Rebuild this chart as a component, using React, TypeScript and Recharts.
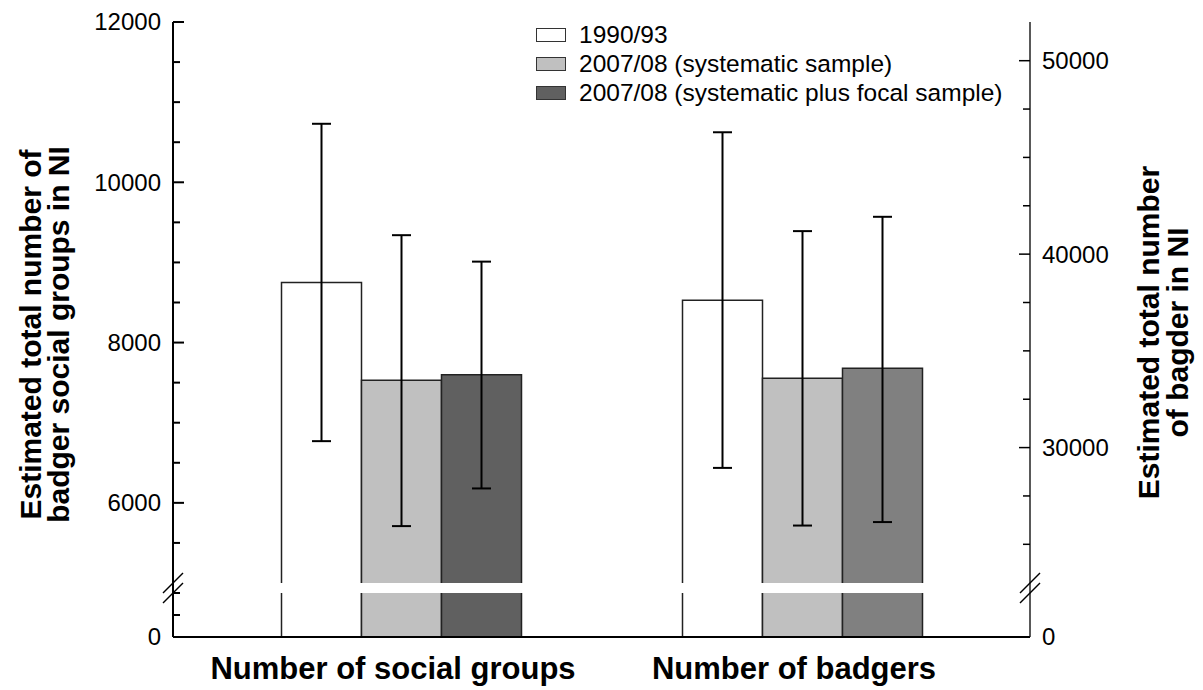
import React from 'react';
import { ComposedChart, Bar, Line, XAxis, YAxis, ErrorBar, Cell, ReferenceArea, Legend } from 'recharts';

// ---------- data ----------
const categories = ['Number of social groups', 'Number of badgers'];
const seriesNames = ['1990/93', '2007/08 (systematic sample)', '2007/08 (systematic plus focal sample)'];

// first category read on the left axis, second on the right axis
const est1990 = [8750, 37620];
const lo1990 = [6770, 28950];
const hi1990 = [10730, 46300];
const estSys = [7530, 33590];
const loSys = [5710, 25970];
const hiSys = [9340, 41190];
const estFocal = [7600, 34100];
const loFocal = [6180, 26150];
const hiFocal = [9010, 41930];

const leftMajorTicks = [0, 6000, 8000, 10000, 12000];
const leftMinorTicks = [500, 1000, 5500, 6500, 7000, 7500, 8500, 9000, 9500, 10500, 11000, 11500];
const rightMajorTicks = [0, 30000, 40000, 50000];
const rightMinorTicks = [25000, 27500, 32500, 35000, 37500, 42500, 45000, 47500];

// broken axis segments: [lowerMax, upperMin, upperMax]
const leftSegments = [1000, 5000, 12000];
const rightSegments = [1000, 23000, 52000];

// ---------- styles ----------
const FONT = '"Liberation Sans", Arial, Helvetica, sans-serif';
const FILL_1990 = '#ffffff';
const FILL_SYS = '#c0c0c0';
const FILL_FOCAL = ['#606060', '#808080'];
const LEGEND_FILLS = [FILL_1990, FILL_SYS, FILL_FOCAL[0]];
const BAR_STROKE = '#222';

// display units for the broken scale
const D_MAX = 615;
const D_LOW_TOP = 44;
const D_UP_BOTTOM = 54;
const D_BREAK = (D_LOW_TOP + D_UP_BOTTOM) / 2;

const makeMap = ([lowMax, upMin, upMax]: number[]) => (v: number) =>
  v <= lowMax ? (v / lowMax) * D_LOW_TOP : D_UP_BOTTOM + ((v - upMin) / (upMax - upMin)) * (D_MAX - D_UP_BOTTOM);

const leftMap = makeMap(leftSegments);
const rightMap = makeMap(rightSegments);
const maps = [leftMap, rightMap];

const seriesSets = [
  [est1990, lo1990, hi1990],
  [estSys, loSys, hiSys],
  [estFocal, loFocal, hiFocal],
];

const data = categories.map((c, i) => {
  const m = maps[i];
  const row: any = { category: c };
  seriesSets.forEach(([e, l, h], k) => {
    row[`s${k}`] = m(e[i]);
    row[`e${k}`] = [m(e[i]) - m(l[i]), m(h[i]) - m(e[i])];
  });
  return row;
});

type TickDef = { pos: number; label?: string; major: boolean; isBreak?: boolean };
const buildTicks = (m: (v: number) => number, majors: number[], minors: number[]): TickDef[] =>
  [
    ...majors.map((v) => ({ pos: m(v), label: String(v), major: true })),
    ...minors.map((v) => ({ pos: m(v), major: false })),
    { pos: D_BREAK, major: false, isBreak: true },
  ].sort((a, b) => a.pos - b.pos);

const leftTicks = buildTicks(leftMap, leftMajorTicks, leftMinorTicks);
const rightTicks = buildTicks(rightMap, rightMajorTicks, rightMinorTicks);

const makeTick = (defs: TickDef[], side: 'left' | 'right') => (props: any) => {
  const { x, y, payload } = props;
  const d = defs.find((t) => Math.abs(t.pos - payload.value) < 1e-6);
  if (!d) return <g />;
  const dir = side === 'left' ? 1 : -1;
  if (d.isBreak) {
    return (
      <g stroke="#000" strokeWidth={1.4}>
        <line x1={x - 10} y1={y - 5 + 10} x2={x + 10} y2={y - 5 - 10} />
        <line x1={x - 10} y1={y + 5 + 10} x2={x + 10} y2={y + 5 - 10} />
      </g>
    );
  }
  const len = d.major ? 11 : 7;
  return (
    <g>
      <line x1={x} y1={y} x2={x + dir * len} y2={y} stroke="#000" strokeWidth={side === 'left' ? 2 : 1.5} />
      {d.label !== undefined && (
        <text
          x={x - dir * 12}
          y={y}
          dy="0.35em"
          textAnchor={side === 'left' ? 'end' : 'start'}
          fontSize={24}
          fontFamily={FONT}
          fill="#000"
        >
          {d.label}
        </text>
      )}
    </g>
  );
};

const makeTitle = (lines: string[], offsets: number[], shift: number) => (props: any) => {
  const vb = props.viewBox || { x: 0, y: 0, width: 0, height: 0 };
  const cy = vb.y + vb.height / 2 + shift;
  return (
    <g>
      {lines.map((t, i) => {
        const cx = vb.x + offsets[i];
        return (
          <text
            key={t}
            x={cx}
            y={cy}
            transform={`rotate(-90 ${cx} ${cy})`}
            textAnchor="middle"
            dominantBaseline="central"
            fontSize={30}
            fontWeight={700}
            fontFamily={FONT}
            fill="#000"
          >
            {t}
          </text>
        );
      })}
    </g>
  );
};

const LegendContent = () => (
  <div style={{ fontFamily: FONT, fontSize: 24.5, color: '#000' }}>
    {seriesNames.map((n, i) => (
      <div key={n} style={{ display: 'flex', alignItems: 'center', height: 29 }}>
        <span
          style={{
            display: 'inline-block',
            width: 28,
            height: 12,
            background: LEGEND_FILLS[i],
            border: '1px solid #333',
            marginRight: 13,
          }}
        />
        <span style={{ whiteSpace: 'nowrap' }}>{n}</span>
      </div>
    ))}
  </div>
);

export default function App() {
  return (
    <div style={{ width: 1187, height: 682, background: '#fff' }}>
      <ComposedChart
        width={1187}
        height={682}
        data={data}
        margin={{ top: 14, right: 0, bottom: 5, left: 0 }}
        barSize={80}
        barGap={0}
      >
        <XAxis
          dataKey="category"
          axisLine={{ stroke: '#000', strokeWidth: 2 }}
          tickLine={false}
          tickMargin={14}
          height={48}
          padding={{ left: 27.5, right: 27.5 }}
          tick={{ fontSize: 31, fontWeight: 700, fill: '#000', fontFamily: FONT, dx: -8 }}
        />
        <YAxis
          yAxisId="left"
          orientation="left"
          type="number"
          domain={[0, D_MAX]}
          ticks={leftTicks.map((t) => t.pos)}
          interval={0}
          width={165}
          tickSize={0}
          tickMargin={0}
          tickLine={false}
          axisLine={{ stroke: '#000', strokeWidth: 2 }}
          tick={makeTick(leftTicks, 'left')}
          label={{
            content: makeTitle(['Estimated total number of', 'badger social groups in NI'], [22, 50], 5),
          }}
        />
        <YAxis
          yAxisId="right"
          orientation="right"
          type="number"
          domain={[0, D_MAX]}
          ticks={rightTicks.map((t) => t.pos)}
          interval={0}
          width={165}
          tickSize={0}
          tickMargin={0}
          tickLine={false}
          axisLine={{ stroke: '#222', strokeWidth: 1.5 }}
          tick={makeTick(rightTicks, 'right')}
          label={{
            content: makeTitle(['Estimated total number', 'of bagder in NI'], [118, 147], 3),
          }}
        />
        <Bar dataKey="s0" name={seriesNames[0]} yAxisId="left" fill={FILL_1990} stroke={BAR_STROKE} strokeWidth={1.5} isAnimationActive={false}>
          <ErrorBar dataKey="e0" width={9.5} stroke="#000" strokeWidth={2} direction="y" />
        </Bar>
        <Bar dataKey="s1" name={seriesNames[1]} yAxisId="left" fill={FILL_SYS} stroke={BAR_STROKE} strokeWidth={1.5} isAnimationActive={false}>
          <ErrorBar dataKey="e1" width={9.5} stroke="#000" strokeWidth={2} direction="y" />
        </Bar>
        <Bar dataKey="s2" name={seriesNames[2]} yAxisId="left" fill={FILL_FOCAL[0]} stroke={BAR_STROKE} strokeWidth={1.5} isAnimationActive={false}>
          {data.map((d, i) => (
            <Cell key={d.category} fill={FILL_FOCAL[i]} />
          ))}
          <ErrorBar dataKey="e2" width={9.5} stroke="#000" strokeWidth={2} direction="y" />
        </Bar>
        {/* invisible series so the right axis has an attached item and draws its ticks */}
        <Line
          yAxisId="right"
          dataKey="s0"
          stroke="none"
          dot={false}
          activeDot={false}
          legendType="none"
          isAnimationActive={false}
        />
        <ReferenceArea
          yAxisId="left"
          x1={categories[0]}
          x2={categories[1]}
          y1={D_LOW_TOP}
          y2={D_UP_BOTTOM}
          fill="#fff"
          fillOpacity={1}
          stroke="none"
          ifOverflow="visible"
          {...({ zIndex: 350 } as any)}
        />
        <Legend
          layout="horizontal"
          verticalAlign="middle"
          align="center"
          wrapperStyle={{ left: 528, top: 12, width: 'auto' }}
          content={LegendContent}
        />
      </ComposedChart>
    </div>
  );
}
